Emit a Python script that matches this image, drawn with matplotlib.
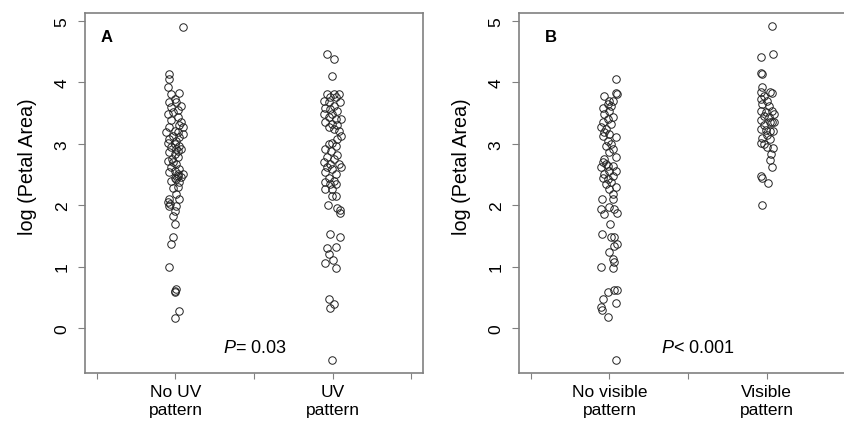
import numpy as np
import matplotlib
matplotlib.use("Agg")
import matplotlib.pyplot as plt

plt.rcParams['font.family'] = ['Liberation Sans', 'DejaVu Sans']
plt.rcParams['mathtext.fontset'] = 'custom'
plt.rcParams['mathtext.it'] = 'Liberation Sans:italic'
plt.rcParams['mathtext.rm'] = 'Liberation Sans'

# panel A - no UV pattern (log petal area, jitter read off the strip)
a_no_uv = [4.90, 4.14, 4.06, 3.92, 3.81, 3.83, 3.73, 3.68, 3.68, 3.62, 3.60, 3.55, 3.51, 3.49,
           3.43, 3.38, 3.35, 3.30, 3.27, 3.27, 3.21, 3.19, 3.19, 3.16, 3.13, 3.11, 3.08, 3.05,
           3.02, 3.00, 2.97, 2.94, 2.92, 2.92, 2.88, 2.86, 2.83, 2.78, 2.75, 2.72, 2.70, 2.67,
           2.62, 2.59, 2.56, 2.54, 2.51, 2.50, 2.48, 2.46, 2.45, 2.43, 2.40, 2.37, 2.29, 2.28,
           2.18, 2.10, 2.10, 2.05, 2.02, 1.99, 1.99, 1.91, 1.83, 1.69, 1.48, 1.37, 0.99, 0.64,
           0.61, 0.58, 0.28, 0.17]
a_no_uv_jit = [0.046, -0.038, -0.038, -0.049, -0.027, 0.025, -0.006, -0.038, 0.004, 0.036, -0.027, 0.013, -0.017, -0.049,
               0.015, -0.027, 0.038, 0.025, -0.038, 0.046, -0.006, -0.059, 0.015, 0.045, -0.017, 0.025, -0.038, 0.004,
               -0.049, -0.006, 0.025, -0.027, 0.004, 0.036, 0.019, -0.038, -0.006, 0.015, -0.025, -0.049, -0.017, 0.004,
               -0.027, 0.025, -0.006, -0.038, 0.015, 0.045, 0.019, 0.036, -0.006, 0.004, -0.027, 0.025, 0.015, -0.017,
               0.004, 0.025, -0.038, -0.049, -0.032, -0.038, 0.004, -0.006, -0.017, -0.006, -0.017, -0.027, -0.038, 0.004,
               0.0, -0.006, 0.025, -0.006]

# panel A - UV pattern
a_uv = [4.46, 4.38, 4.11, 3.81, 3.81, 3.81, 3.76, 3.76, 3.70, 3.68, 3.68, 3.62, 3.59, 3.57,
        3.54, 3.49, 3.49, 3.43, 3.40, 3.40, 3.35, 3.32, 3.30, 3.27, 3.24, 3.21, 3.13, 3.08,
        3.02, 3.00, 2.97, 2.92, 2.89, 2.81, 2.78, 2.75, 2.70, 2.67, 2.67, 2.62, 2.59, 2.62,
        2.54, 2.51, 2.45, 2.40, 2.37, 2.35, 2.35, 2.26, 2.26, 2.15, 2.15, 2.00, 1.95, 1.92,
        1.88, 1.53, 1.49, 1.31, 1.32, 1.21, 1.06, 1.11, 0.98, 0.47, 0.39, 0.32, -0.52]
a_uv_jit = [-0.034, 0.008, -0.002, -0.038, 0.008, 0.040, -0.013, 0.019, -0.055, -0.024, 0.046, 0.008, -0.045, -0.013,
            0.030, -0.055, -0.002, -0.024, 0.019, 0.051, -0.045, -0.002, 0.030, -0.024, 0.008, 0.040, 0.051, 0.030,
            -0.002, -0.024, 0.019, -0.045, -0.008, 0.030, -0.034, 0.008, -0.055, -0.013, 0.040, -0.034, -0.002, 0.051,
            -0.045, 0.019, -0.024, 0.008, -0.045, -0.013, 0.019, -0.045, -0.002, -0.002, 0.019, -0.028, 0.030, 0.045,
            0.047, -0.019, 0.045, -0.034, 0.025, -0.024, -0.045, 0.004, 0.025, -0.024, 0.008, -0.017, -0.002]

# panel B - no visible pattern
b_no_vis = [4.06, 3.83, 3.81, 3.78, 3.70, 3.70, 3.65, 3.62, 3.59, 3.54, 3.49, 3.43, 3.40, 3.35,
            3.32, 3.27, 3.24, 3.19, 3.16, 3.13, 3.11, 3.05, 3.00, 2.97, 2.92, 2.86, 2.78, 2.75,
            2.70, 2.67, 2.64, 2.62, 2.64, 2.56, 2.56, 2.51, 2.48, 2.45, 2.43, 2.37, 2.35, 2.29,
            2.26, 2.18, 2.10, 2.10, 1.94, 1.97, 1.94, 1.86, 1.88, 1.69, 1.53, 1.48, 1.49, 1.37,
            1.33, 1.23, 1.12, 1.08, 1.00, 0.98, 0.62, 0.62, 0.58, 0.48, 0.40, 0.34, 0.30, 0.18,
            -0.52]
b_no_vis_jit = [0.043, 0.043, 0.047, -0.032, 0.0, 0.021, -0.011, 0.011, -0.043, 0.0, -0.032, 0.021, -0.011, -0.043,
                0.011, -0.053, -0.021, -0.032, 0.0, -0.043, 0.043, -0.011, 0.011, -0.021, 0.021, 0.0, 0.043, -0.032,
                -0.043, -0.021, -0.011, -0.053, 0.021, 0.043, 0.0, -0.032, 0.021, -0.043, -0.011, 0.011, -0.021, 0.043,
                0.0, 0.021, -0.047, 0.021, -0.053, 0.0, 0.032, -0.032, 0.047, 0.006, -0.047, 0.011, 0.032, 0.047,
                0.032, -0.004, 0.021, 0.032, -0.053, 0.025, 0.032, 0.047, -0.011, -0.038, 0.043, -0.053, -0.047, -0.011,
                0.043]

# panel B - visible pattern
b_vis = [4.92, 4.47, 4.41, 4.16, 4.13, 3.92, 3.84, 3.84, 3.83, 3.78, 3.73, 3.69, 3.65, 3.62,
         3.54, 3.54, 3.51, 3.49, 3.46, 3.43, 3.39, 3.35, 3.35, 3.35, 3.30, 3.24, 3.22, 3.21,
         3.21, 3.15, 3.09, 3.08, 3.01, 2.99, 2.94, 2.93, 2.83, 2.74, 2.62, 2.48, 2.44, 2.36,
         2.01]
b_vis_jit = [0.036, 0.043, -0.038, -0.038, -0.027, -0.027, -0.038, 0.025, 0.036, -0.017, -0.038, 0.004, -0.027, 0.015,
             0.036, -0.038, -0.006, 0.046, -0.017, 0.015, -0.038, 0.021, 0.036, 0.046, -0.017, -0.038, -0.006, 0.025,
             0.043, 0.004, -0.027, 0.021, -0.038, -0.017, 0.0, 0.043, 0.030, 0.025, 0.036, -0.038, -0.027, 0.011,
             -0.030]

panels = [
    dict(groups=[a_no_uv, a_uv], jits=[a_no_uv_jit, a_uv_jit],
         labels=['No UV\npattern', 'UV\npattern'], tag='A', tag_x=0.045, ptext='$P$= 0.03', px=1.506),
    dict(groups=[b_no_vis, b_vis], jits=[b_no_vis_jit, b_vis_jit],
         labels=['No visible\npattern', 'Visible\npattern'], tag='B', tag_x=0.078, ptext='$P$< 0.001', px=1.564),
]

W, H = 845, 435
fig = plt.figure(figsize=(W / 100, H / 100), dpi=100)
lefts = [85, 519]
frame = '#808080'

for left, p in zip(lefts, panels):
    ax = fig.add_axes([left / W, (H - 374) / H, 338 / W, 360 / H])
    for i, (vals, jit) in enumerate(zip(p['groups'], p['jits'])):
        x = (i + 1) + np.array(jit)
        ax.plot(x, vals, 'o', ms=5.4, mfc='none', mec='#222222', mew=0.7, clip_on=False)
    ax.set_xlim(0.424, 2.576)
    ax.set_ylim(-0.733, 5.13)
    ax.set_xticks([0.5, 1, 1.5, 2, 2.5])
    ax.set_xticklabels(['', p['labels'][0], '', p['labels'][1], ''], fontsize=12.5, linespacing=1.25)
    ax.set_yticks([0, 1, 2, 3, 4, 5])
    ax.set_yticklabels(['0', '1', '2', '3', '4', '5'], rotation=90, va='center', fontsize=12.5)
    ax.tick_params(axis='y', length=5, width=0.8, color=frame, pad=6)
    ax.tick_params(axis='x', length=4, width=0.8, color=frame, pad=4)
    for s in ax.spines.values():
        s.set_color(frame)
        s.set_linewidth(1.2)
    ax.set_ylabel('log (Petal Area)', fontsize=14.2)
    ax.yaxis.set_label_coords(-0.143, 0.575)
    ax.text(p['tag_x'], 0.935, p['tag'], transform=ax.transAxes, fontsize=12,
            fontweight='bold', ha='left', va='center')
    ax.text(p['px'], -0.31, p['ptext'], fontsize=13, ha='center', va='center')

fig.savefig('out.png', dpi=100)
